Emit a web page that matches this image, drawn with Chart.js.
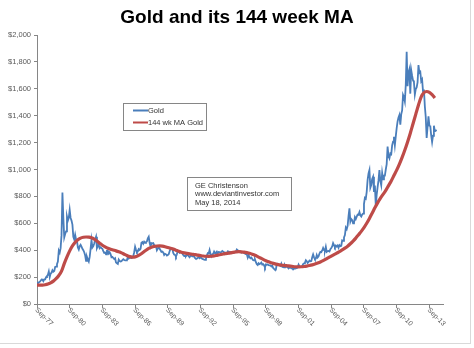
<!DOCTYPE html>
<html>
<head>
<meta charset="utf-8">
<script src="https://cdn.jsdelivr.net/npm/chart.js@4"></script>
<style>
  html, body { margin: 0; padding: 0; background: #fff; }
  #wrap { width: 474px; height: 348px; }
</style>
</head>
<body>
<div id="wrap"><canvas id="goldChart" width="474" height="348"></canvas></div>
<script>
// x-axis labels, one every 36 months starting Sep 1977
const tickLabels = ['Sep-77', 'Sep-80', 'Sep-83', 'Sep-86', 'Sep-89', 'Sep-92', 'Sep-95',
  'Sep-98', 'Sep-01', 'Sep-04', 'Sep-07', 'Sep-10', 'Sep-13'];
const seriesNames = ['Gold', '144 wk MA Gold'];
const noteLines = ['GE Christenson', 'www.deviantinvestor.com', 'May 18, 2014'];

// monthly gold price, Sep 1977 .. May 2014
const gold = [
  150, 160, 161, 165,
  173, 182, 181, 170, 183, 183, 200, 208, 218, 242, 200, 226,
  233, 251, 240, 246, 275, 278, 296, 315, 397, 382, 415, 512,
  828, 640, 495, 520, 540, 650, 620, 640, 699, 640, 620, 590,
  500, 480, 515, 480, 470, 420, 405, 430, 440, 427, 410, 400,
  385, 362, 320, 350, 330, 315, 350, 410, 476, 420, 430, 450,
  480, 500, 415, 430, 440, 415, 422, 415, 410, 393, 380, 382,
  370, 395, 395, 375, 385, 372, 347, 350, 342, 334, 340, 308,
  303, 298, 330, 320, 316, 318, 327, 333, 327, 325, 325, 327,
  350, 338, 345, 345, 342, 345, 357, 385, 426, 403, 385, 390,
  408, 402, 410, 455, 460, 448, 463, 455, 460, 465, 488, 500,
  455, 428, 452, 450, 452, 437, 435, 430, 400, 412, 425, 410,
  400, 388, 390, 383, 365, 373, 370, 360, 365, 370, 392, 410,
  414, 410, 380, 368, 365, 352, 370, 395, 390, 380, 383, 386,
  375, 364, 357, 358, 357, 368, 362, 356, 348, 358, 360, 354,
  354, 353, 341, 337, 338, 343, 352, 341, 346, 343, 335, 333,
  330, 328, 336, 360, 378, 375, 401, 372, 355, 370, 373, 390,
  378, 382, 390, 376, 387, 386, 384, 386, 394, 389, 383, 383,
  378, 376, 392, 390, 385, 387, 384, 383, 384, 383, 386, 387,
  405, 400, 396, 392, 391, 382, 385, 387, 379, 379, 371, 369,
  345, 363, 348, 340, 345, 334, 326, 324, 331, 311, 296, 290,
  303, 297, 301, 308, 293, 296, 288, 273, 294, 292, 294, 288,
  287, 287, 279, 286, 268, 261, 255, 255, 299, 300, 292, 288,
  283, 300, 277, 274, 273, 288, 276, 276, 274, 264, 270, 272,
  265, 266, 257, 263, 268, 270, 266, 273, 293, 279, 275, 277,
  282, 297, 302, 308, 326, 318, 305, 312, 323, 317, 319, 347,
  368, 347, 334, 337, 364, 346, 354, 375, 388, 386, 398, 416,
  400, 396, 426, 388, 394, 395, 391, 408, 416, 428, 453, 438,
  423, 435, 427, 435, 418, 437, 430, 433, 473, 470, 495, 513,
  568, 556, 582, 654, 711, 613, 632, 624, 599, 604, 646, 632,
  650, 665, 663, 683, 659, 650, 665, 672, 743, 789, 783, 834,
  923, 971, 996, 865, 885, 930, 946, 833, 880, 730, 814, 869,
  919, 996, 916, 883, 975, 927, 955, 955, 1000, 1040, 1170, 1100,
  1083, 1118, 1113, 1179, 1207, 1244, 1181, 1246, 1307, 1357, 1386, 1405,
  1333, 1410, 1439, 1554, 1536, 1505, 1628, 1876, 1620, 1722, 1746, 1564,
  1738, 1697, 1662, 1651, 1558, 1598, 1610, 1648, 1776, 1719, 1726, 1657,
  1670, 1580, 1595, 1470, 1390, 1234, 1314, 1396, 1326, 1323, 1253, 1204,
  1251, 1326, 1284, 1288, 1293
];

// 144 week moving average, read every 3 months from Sep 1977
const ma144 = [
  141, 141,
  141, 143, 148, 157,
  170, 188, 212, 245,
  300, 350, 395, 432,
  458, 478, 490, 496,
  498, 497, 492, 482,
  468, 452, 437, 425,
  415, 407, 401, 395,
  388, 380, 370, 360,
  352, 348, 350, 358,
  370, 385, 400, 413,
  422, 428, 431, 432,
  430, 426, 420, 414,
  408, 400, 392, 385,
  380, 376, 373, 370,
  367, 363, 360, 357,
  355, 354, 355, 358,
  362, 366, 370, 374,
  377, 380, 384, 387,
  389, 388, 386, 382,
  377, 370, 362, 352,
  342, 332, 322, 314,
  307, 300, 295, 291,
  288, 286, 284, 282,
  279, 277, 276, 277,
  279, 282, 286, 291,
  297, 304, 312, 322,
  333, 345, 356, 367,
  378, 390, 402, 415,
  430, 448, 468, 490,
  515, 540, 568, 600,
  636, 675, 715, 752,
  785, 815, 845, 880,
  915, 955, 995, 1040,
  1090, 1145, 1205, 1270,
  1340, 1410, 1480, 1540,
  1572, 1580, 1574, 1556,
  1532
];

const FONT = '"Liberation Sans", Arial, sans-serif';
const blue = '#4a7ebb';
const red = '#be4b48';

// title, legend box, note box and slanted x labels
const extras = {
  id: 'extras',
  afterDraw(chart) {
    const ctx = chart.ctx;
    const xs = chart.scales.x;
    ctx.save();

    // outer frame
    ctx.strokeStyle = '#d9d9d9';
    ctx.lineWidth = 1;
    ctx.strokeRect(-1, -1, 471.5, 344.5);

    // title
    ctx.fillStyle = '#000';
    ctx.font = 'bold 19px ' + FONT;
    ctx.textAlign = 'center';
    ctx.textBaseline = 'middle';
    ctx.fillText('Gold and its 144 week MA', 237, 18);

    // x labels rotated down-right from each tick
    ctx.font = '7px ' + FONT;
    ctx.fillStyle = '#595959';
    ctx.textAlign = 'left';
    xs.ticks.forEach((t, i) => {
      const px = xs.getPixelForValue(t.value);
      ctx.save();
      ctx.translate(px - 1, 309);
      ctx.rotate(Math.PI / 4);
      ctx.fillText(tickLabels[i], 0, 0);
      ctx.restore();
    });

    // legend
    ctx.strokeStyle = '#868686';
    ctx.strokeRect(123.5, 103.5, 83, 27);
    ctx.font = '7.5px ' + FONT;
    ctx.fillStyle = '#333';
    ctx.textBaseline = 'middle';
    chart.data.datasets.forEach((ds, i) => {
      const y = 110.5 + i * 12;
      ctx.strokeStyle = ds.borderColor;
      ctx.lineWidth = 2;
      ctx.beginPath();
      ctx.moveTo(133, y);
      ctx.lineTo(148, y);
      ctx.stroke();
      ctx.fillText(ds.label, 148, y);
    });

    // note box
    ctx.strokeStyle = '#868686';
    ctx.lineWidth = 1;
    ctx.strokeRect(187.5, 177.5, 104, 33);
    noteLines.forEach((s, i) => ctx.fillText(s, 195, 186 + i * 8.4));

    ctx.restore();
  }
};

new Chart(document.getElementById('goldChart'), {
  type: 'line',
  data: {
    datasets: [{
      label: seriesNames[0],
      data: gold.map((v, i) => ({ x: i, y: v })),
      borderColor: blue,
      borderWidth: 1.8,
      pointRadius: 0,
      tension: 0,
      order: 2
    }, {
      label: seriesNames[1],
      data: ma144.map((v, i) => ({ x: i * 3, y: v })),
      borderColor: red,
      borderWidth: 3.2,
      pointRadius: 0,
      cubicInterpolationMode: 'monotone',
      order: 1
    }]
  },
  options: {
    responsive: false,
    animation: false,
    layout: { padding: { top: 35, right: 31, left: 0, bottom: 0 } },
    plugins: { legend: { display: false }, tooltip: { enabled: false } },
    scales: {
      x: {
        type: 'linear',
        min: 0,
        max: 447,
        afterBuildTicks: s => { s.ticks = tickLabels.map((_, i) => ({ value: i * 36 })); },
        afterFit: s => { s.height = 44; },
        ticks: { display: false },
        grid: { drawOnChartArea: false, tickLength: 4, color: '#868686' },
        border: { color: '#868686' }
      },
      y: {
        min: 0,
        max: 2000,
        afterFit: s => { s.width = 37; },
        ticks: {
          stepSize: 200,
          padding: 3,
          color: '#595959',
          font: { size: 7.5, family: FONT },
          callback: v => '$' + v.toLocaleString('en-US')
        },
        grid: { drawOnChartArea: false, tickLength: 3, color: '#868686' },
        border: { color: '#868686' }
      }
    }
  },
  plugins: [extras]
});
</script>
</body>
</html>
